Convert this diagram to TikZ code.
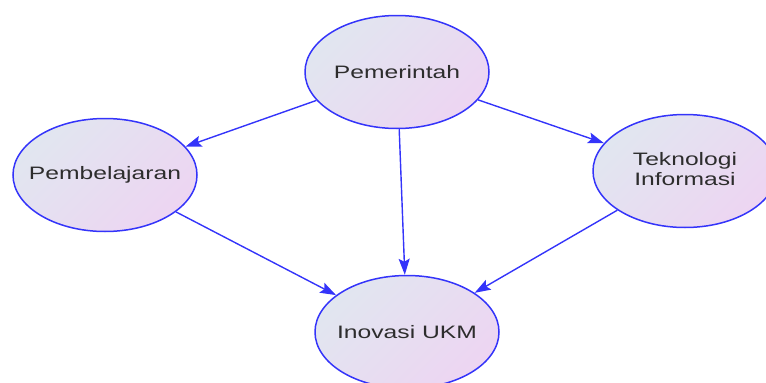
\documentclass[tikz,border=0pt]{standalone}
\usepackage{fontspec}
\setmainfont{Liberation Sans}
\usetikzlibrary{arrows.meta,shapes.geometric}
\definecolor{edgeblue}{RGB}{52,52,250}
\definecolor{fillA}{RGB}{225,230,240}
\definecolor{fillB}{RGB}{237,213,242}
\definecolor{txt}{RGB}{45,45,45}
\newcommand{\stretchtxt}[1]{\makebox[0pt]{\scalebox{1.37}[1]{#1}}}
\tikzset{
  bubble/.style={ellipse, draw=edgeblue, line width=1.5pt,
    top color=fillA, bottom color=fillB, shading angle=45,
    minimum width=184pt, minimum height=113pt, inner sep=0pt,
    text=txt, font=\fontsize{18}{20}\selectfont},
  link/.style={draw=edgeblue, line width=1.4pt,
    -{Stealth[length=16pt,width=11pt,inset=3pt]}}
}
\begin{document}
\begin{tikzpicture}[x=1pt,y=-1pt]
\useasboundingbox (0,0) rectangle (766,383);
\clip (0,0) rectangle (766,383);
\node[bubble] (pem) at (397,72) {\stretchtxt{Pemerintah}};
\node[bubble] (bel) at (105,175) {\stretchtxt{Pembelajaran}};
\node[bubble] (tek) at (685,171) {\stretchtxt{\begin{tabular}{@{}c@{}}Teknologi\\Informasi\end{tabular}}};
\node[bubble] (ino) at (407,332) {\stretchtxt{Inovasi UKM}};
\draw[link] (pem) -- (bel);
\draw[link] (pem) -- (tek);
\draw[link] (pem) -- (ino);
\draw[link] (bel) -- (ino);
\draw[link] (tek) -- (ino);
\end{tikzpicture}
\end{document}
